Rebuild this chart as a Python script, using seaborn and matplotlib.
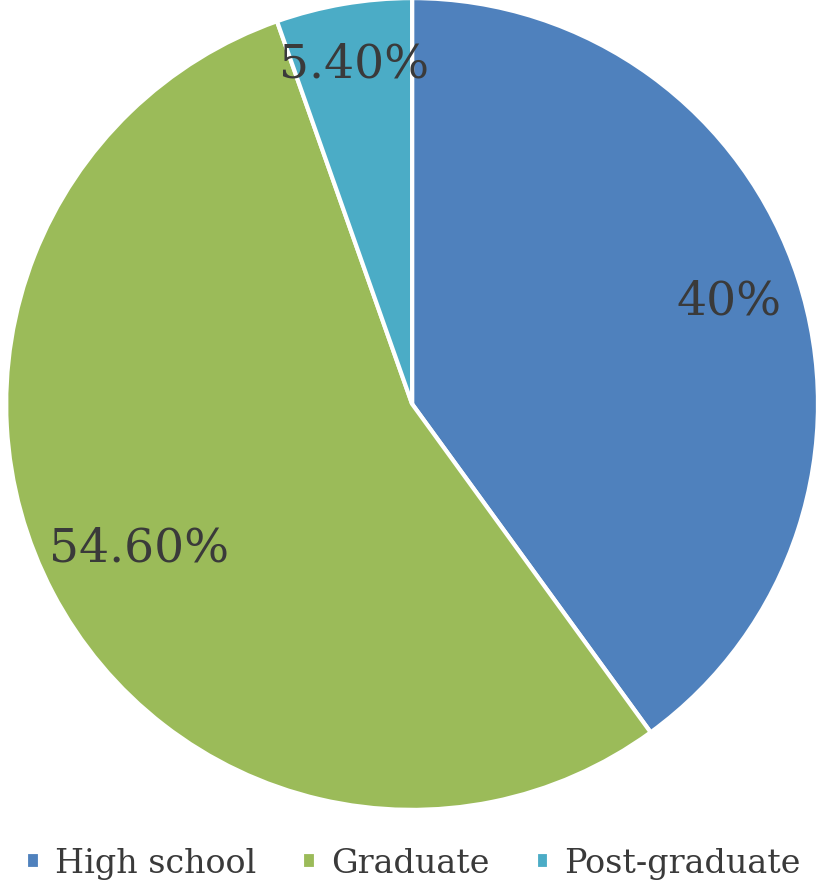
import matplotlib
matplotlib.use("Agg")
import matplotlib.pyplot as plt
import numpy as np
import seaborn as sns

categories = ["High school", "Graduate", "Post-graduate"]
shares = [40.0, 54.6, 5.4]
pct_labels = ["40%", "54.60%", "5.40%"]
colors = ["#4F81BD", "#9BBB59", "#4BACC6"]

sns.set_theme(style="white")
plt.rcParams["font.family"] = ["DejaVu Serif"]

fig = plt.figure(figsize=(8.27, 8.95), dpi=100)
ax = fig.add_axes([0.0073, 0.094, 0.982, 0.907])

wedges, _ = ax.pie(
    shares,
    colors=colors,
    startangle=90,
    counterclock=False,
    wedgeprops={"edgecolor": "white", "linewidth": 3},
)
ax.set_xlim(-1, 1)
ax.set_ylim(-1, 1)
ax.set_aspect("equal")

# label distance from centre, per slice
dists = [0.82, 0.76, 0.85]
for w, lab, d in zip(wedges, pct_labels, dists):
    ang = np.deg2rad((w.theta1 + w.theta2) / 2)
    ax.text(d * np.cos(ang), d * np.sin(ang), lab, ha="center", va="center",
            fontsize=34, color="#3a3a3a")

leg = fig.legend(
    wedges, categories, loc="lower center", ncol=3, frameon=False,
    bbox_to_anchor=(0.5, -0.017), fontsize=24,
    handlelength=0.4, handleheight=0.4, handletextpad=0.45, columnspacing=1.4,
)
for t in leg.get_texts():
    t.set_color("#3a3a3a")

fig.savefig("out.png", dpi=100, facecolor="white")
